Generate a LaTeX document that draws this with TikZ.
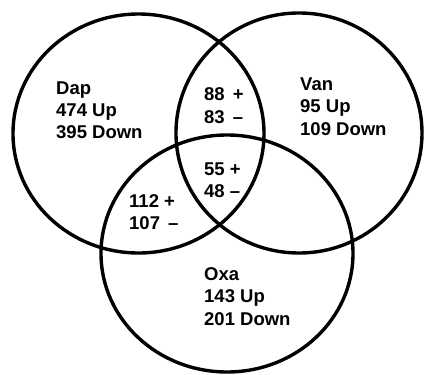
\documentclass[tikz,border=0pt]{standalone}
\usepackage{fontspec}
\setmainfont{Liberation Sans}
\begin{document}
\begin{tikzpicture}[x=1pt,y=-1pt,
  ring/.style={line width=3.4pt,black},
  lbl/.style={anchor=base west,inner sep=0pt,font=\fontsize{18.5}{21}\selectfont\bfseries}]
\useasboundingbox (0,0) rectangle (424,375);
\draw[ring] (138.5,133.5) ellipse [x radius=125.5, y radius=119.5];
\draw[ring] (299,133) ellipse [x radius=123, y radius=120];
\draw[ring] (227,253.5) ellipse [x radius=126, y radius=118.5];
% Dap
\node[lbl] (dap1) at (56,94) {Dap};
\node[lbl] (dap2) at (56,116) {474 Up};
\node[lbl] (dap3) at (56,138) {395 Down};
% Van
\node[lbl] (van1) at (300,90) {Van};
\node[lbl] (van2) at (300,112) {95 Up};
\node[lbl] (van3) at (300,135) {109 Down};
% Dap & Van
\node[lbl] (dv1) at (204,100) {88\hspace{8pt}+};
\node[lbl] (dv2) at (204,123) {83\hspace{8pt}–};
% all
\node[lbl] (all1) at (204,175) {55 +};
\node[lbl] (all2) at (204,197) {48 –};
% Dap & Oxa
\node[lbl] (do1) at (129,207) {112 +};
\node[lbl] (do2) at (129,229) {107\hspace{8pt}–};
% Oxa
\node[lbl] (oxa1) at (204,280) {Oxa};
\node[lbl] (oxa2) at (204,302) {143 Up};
\node[lbl] (oxa3) at (204,325) {201 Down};
\end{tikzpicture}
\end{document}
